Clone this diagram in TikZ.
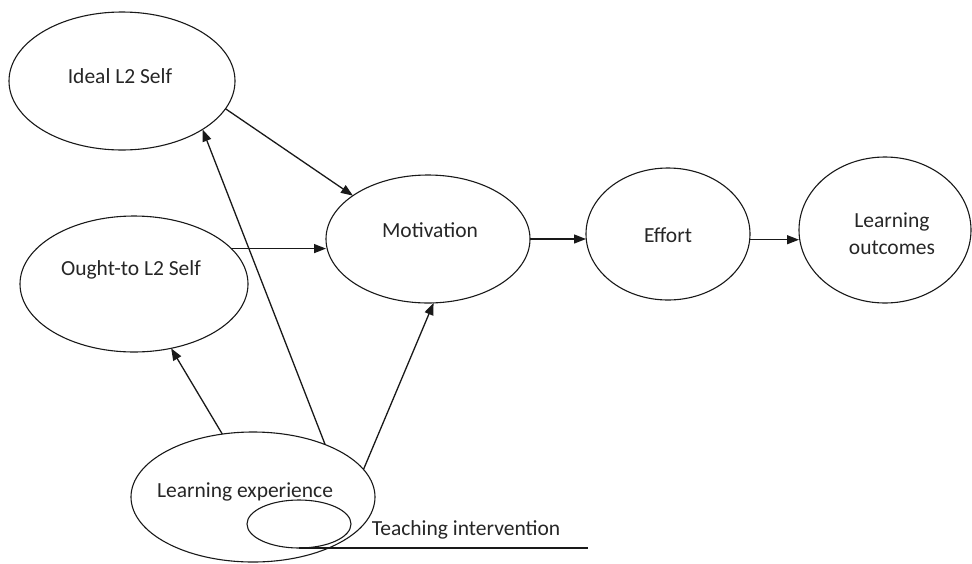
\documentclass[tikz,border=0pt]{standalone}
\usepackage{fontspec}
\setmainfont{Carlito}
\usetikzlibrary{shapes.geometric,arrows.meta}
\begin{document}
\begin{tikzpicture}[x=1pt,y=-1pt,
  oval/.style={draw=black!90, line width=1.1pt, ellipse, inner sep=0pt, outer sep=0pt},
  lbl/.style={font=\fontsize{21.5}{26}\selectfont, text=black!85, inner sep=0pt, anchor=base},
  conn/.style={draw=black!90, line width=1.3pt, -{Triangle[length=12pt,width=9pt]}},
  plainline/.style={draw=black!90, line width=1.3pt}]
\useasboundingbox (0,0) rectangle (972,563);
% ellipses
\node[oval, minimum width=226pt, minimum height=138pt] (ideal) at (122,81) {};
\node[oval, minimum width=228pt, minimum height=136pt] (ought) at (134,284) {};
\node[oval, minimum width=204pt, minimum height=128pt] (mot) at (428,239) {};
\node[oval, minimum width=164pt, minimum height=132pt] (effort) at (668,234) {};
\node[oval, minimum width=172pt, minimum height=146pt] (lo) at (885,230) {};
\node[oval, minimum width=244pt, minimum height=130pt] (le) at (253,497) {};
\node[oval, minimum width=104pt, minimum height=48pt] (ti) at (299,524) {};
% texts
\node[lbl] (tideal) at (120,83) {Ideal L2 Self};
\node[lbl] (tought) at (131,275) {Ought-to L2 Self};
\node[lbl] (tmot) at (430,237) {Motivation};
\node[lbl] (teffort) at (668,242) {Effort};
\node[lbl] (tlo1) at (892,227) {Learning};
\node[lbl] (tlo2) at (892,254) {outcomes};
\node[lbl] (tle) at (245,497) {Learning experience};
\node[lbl] (tti) at (466,535) {Teaching intervention};
% connectors
\draw[conn] (ideal.-15.4) -- (mot.150);
\draw[conn] (ought.20.4) -- (ought.20.4 -| mot.west);
\draw[conn] (mot.east) -- (mot.east -| effort.west);
\draw[conn] (effort.-4) -- (effort.-4 -| lo.west);
\draw[conn] (le.116) -- (ought.-60.5);
\draw[conn] (le.36.6) -- (ideal.-31.5);
\draw[conn] (le.14.8) -- (mot.-85.7);
\coordinate (lineend) at (588,548);
\draw[plainline] (ti.south) -- (lineend);
\end{tikzpicture}
\end{document}
